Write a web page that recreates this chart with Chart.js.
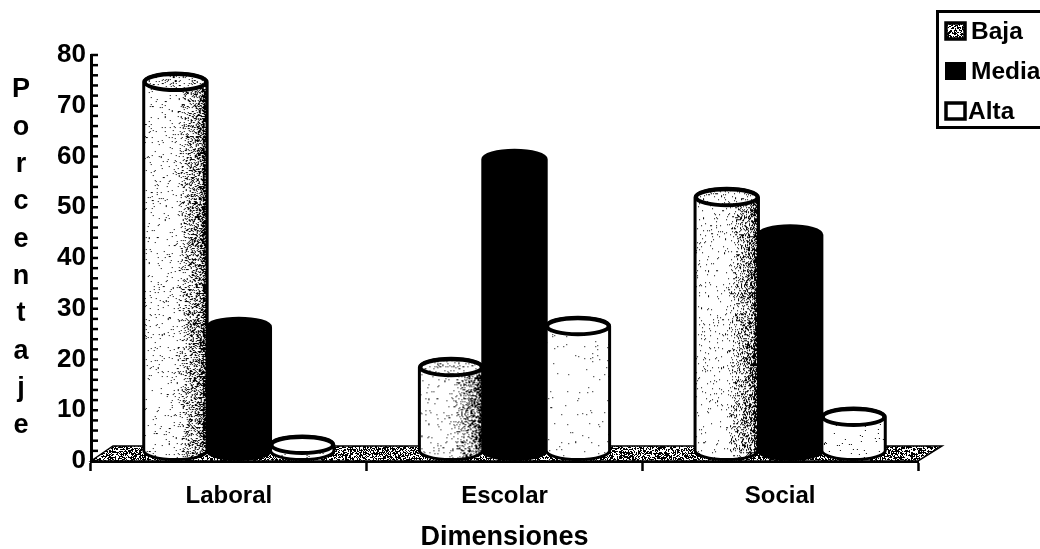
<!DOCTYPE html>
<html>
<head>
<meta charset="utf-8">
<style>
  html, body { margin: 0; padding: 0; background: #fff; overflow: hidden; }
  #wrap { width: 1040px; height: 549px; position: relative; }
</style>
<script src="https://cdn.jsdelivr.net/npm/chart.js@4"></script>
</head>
<body>
<div id="wrap"><canvas id="chart" width="1040" height="549"></canvas></div>
<script>
const categories = ["Laboral", "Escolar", "Social"];
const seriesNames = ["Baja", "Media", "Alta"];
const baja = [72.7, 16.5, 50];
const media = [24.4, 57.5, 42.6];
const alta = [1.2, 24.6, 6.7];
const yTitle = "Porcentaje";
const xTitle = "Dimensiones";

const FONT = "'Liberation Sans', Arial, sans-serif";
const LIFT = 10;   // the cylinders stand in the middle of the floor
const SHIFT = 10;
const RY = 9;

// small fixed generator, only for the scanned grain texture
let seed = 12345;
function grain() {
  seed = (seed * 1103515245 + 12345) & 0x7fffffff;
  return seed / 0x7fffffff;
}

function speckle(w, h, density) {
  const c = document.createElement("canvas");
  c.width = w;
  c.height = h;
  const g = c.getContext("2d");
  const img = g.createImageData(w, h);
  for (let y = 0; y < h; y++) {
    for (let x = 0; x < w; x++) {
      const v = grain() < density(x / w, y / h) ? 0 : 255;
      const i = (y * w + x) * 4;
      img.data[i] = img.data[i + 1] = img.data[i + 2] = v;
      img.data[i + 3] = 255;
    }
  }
  g.putImageData(img, 0, 0);
  return c;
}

const bajaDensity = (u) => (u < 0.5 ? 0.03 : u < 0.92 ? 0.03 + (u - 0.5) * 1.1 : 0.75);
const altaDensity = () => 0.012;
const floorDensity = () => 0.52;

function cylinder(ctx, bar, fill) {
  const x0 = bar.x - bar.width / 2 + SHIFT;
  const w = bar.width;
  const rx = w / 2;
  const cx = x0 + rx;
  const top = bar.y - LIFT;
  const base = bar.base - LIFT;

  ctx.save();
  ctx.beginPath();
  ctx.moveTo(x0, top);
  ctx.lineTo(x0, base);
  ctx.ellipse(cx, base, rx, RY, 0, Math.PI, 0, true);
  ctx.lineTo(x0 + w, top);
  ctx.ellipse(cx, top, rx, RY, 0, 0, Math.PI, true);
  ctx.closePath();
  if (fill) {
    ctx.save();
    ctx.clip();
    ctx.drawImage(speckle(Math.ceil(w), Math.ceil(base - top + RY * 2 + 2), fill), x0, top - RY - 1);
    ctx.restore();
  } else {
    ctx.fillStyle = "#000";
    ctx.fill();
  }
  ctx.lineWidth = 3;
  ctx.strokeStyle = "#000";
  ctx.stroke();

  // top cap
  ctx.beginPath();
  ctx.ellipse(cx, top, rx - 1, RY - 1, 0, 0, Math.PI * 2);
  if (fill) {
    ctx.save();
    ctx.clip();
    ctx.drawImage(speckle(Math.ceil(w), Math.ceil(RY * 2), fill === bajaDensity ? () => 0.12 : () => 0.0), x0, top - RY);
    ctx.restore();
    ctx.lineWidth = 4;
    ctx.stroke();
  } else {
    ctx.fillStyle = "#000";
    ctx.fill();
  }
  ctx.restore();
}

const scene = {
  id: "scene",
  beforeDatasetsDraw(chart) {
    const { ctx, chartArea: a } = chart;
    // floor of the 3D plot
    const back = a.bottom - 15;
    ctx.save();
    ctx.beginPath();
    ctx.moveTo(a.left, a.bottom);
    ctx.lineTo(a.left + 22, back);
    ctx.lineTo(a.right + 24, back);
    ctx.lineTo(a.right, a.bottom);
    ctx.closePath();
    ctx.save();
    ctx.clip();
    ctx.drawImage(speckle(Math.ceil(a.width + 30), 18, floorDensity), a.left, back);
    ctx.restore();
    ctx.lineWidth = 1.5;
    ctx.strokeStyle = "#000";
    ctx.stroke();
    ctx.restore();
  },
  afterDatasetsDraw(chart) {
    const { ctx, chartArea: a, scales } = chart;
    const bars = [chart.getDatasetMeta(0).data, chart.getDatasetMeta(1).data, chart.getDatasetMeta(2).data];
    categories.forEach((_, i) => {
      cylinder(ctx, bars[1][i], null);
      cylinder(ctx, bars[0][i], bajaDensity);
      cylinder(ctx, bars[2][i], altaDensity);
    });

    // inward ticks on the value axis
    ctx.save();
    ctx.strokeStyle = "#000";
    ctx.lineWidth = 2.5;
    scales.y.ticks.forEach((t) => {
      const y = scales.y.getPixelForValue(t.value);
      ctx.beginPath();
      ctx.moveTo(a.left, y);
      ctx.lineTo(a.left + 7, y);
      ctx.stroke();
    });
    ctx.restore();

    // vertical axis title, one letter under the other
    ctx.save();
    ctx.fillStyle = "#000";
    ctx.font = "bold 27px " + FONT;
    ctx.textAlign = "center";
    ctx.textBaseline = "middle";
    yTitle.split("").forEach((ch, i) => {
      ctx.fillText(ch, 21, 90 + i * 37.3);
    });
    ctx.restore();

    // legend box, runs off the right side like the original
    ctx.save();
    ctx.strokeStyle = "#000";
    ctx.lineWidth = 3;
    ctx.strokeRect(937.5, 11.5, 120, 116);
    ctx.font = "bold 24.5px " + FONT;
    ctx.textBaseline = "middle";
    seriesNames.forEach((name, i) => {
      const y = 31 + i * 40;
      ctx.fillStyle = "#000";
      ctx.fillText(name, i === 2 ? 968 : 971, y + 1);
      if (i === 1) {
        ctx.fillRect(945, y - 9, 21, 18);
      } else {
        if (i === 0) {
          ctx.drawImage(speckle(21, 18, () => 0.5), 945, y - 9);
        }
        ctx.lineWidth = 3.5;
        ctx.strokeRect(946, y - 8, 19, 16);
      }
    });
    ctx.restore();
  }
};

new Chart(document.getElementById("chart"), {
  type: "bar",
  data: {
    labels: categories,
    datasets: [
      { label: seriesNames[0], data: baja, backgroundColor: "transparent" },
      { label: seriesNames[1], data: media, backgroundColor: "transparent" },
      { label: seriesNames[2], data: alta, backgroundColor: "transparent" }
    ]
  },
  plugins: [scene],
  options: {
    responsive: false,
    animation: false,
    events: [],
    layout: { padding: { top: 55, right: 122 } },
    datasets: { bar: { categoryPercentage: 0.69, barPercentage: 1 } },
    plugins: { legend: { display: false }, tooltip: { enabled: false } },
    scales: {
      x: {
        afterFit: (scale) => { scale.height = 88; },
        border: { color: "#000", width: 3 },
        grid: { drawOnChartArea: false, offset: true, tickLength: 10, tickWidth: 2.5, tickColor: "#000" },
        ticks: { color: "#000", font: { family: FONT, size: 24, weight: "bold" }, padding: 11, maxRotation: 0 },
        title: { display: true, text: xTitle, color: "#000", font: { family: FONT, size: 27, weight: "bold" }, padding: { top: 0, bottom: -5 } }
      },
      y: {
        min: 0,
        max: 80,
        afterFit: (scale) => { scale.width = 91; },
        border: { color: "#000", width: 3 },
        grid: { display: true, drawOnChartArea: false, drawTicks: false },
        ticks: {
          stepSize: 2,
          autoSkip: false,
          color: "#000",
          padding: 5,
          font: { family: FONT, size: 26, weight: "bold" },
          callback: (v) => (v % 10 === 0 ? v : "")
        }
      }
    }
  }
});
</script>
</body>
</html>
